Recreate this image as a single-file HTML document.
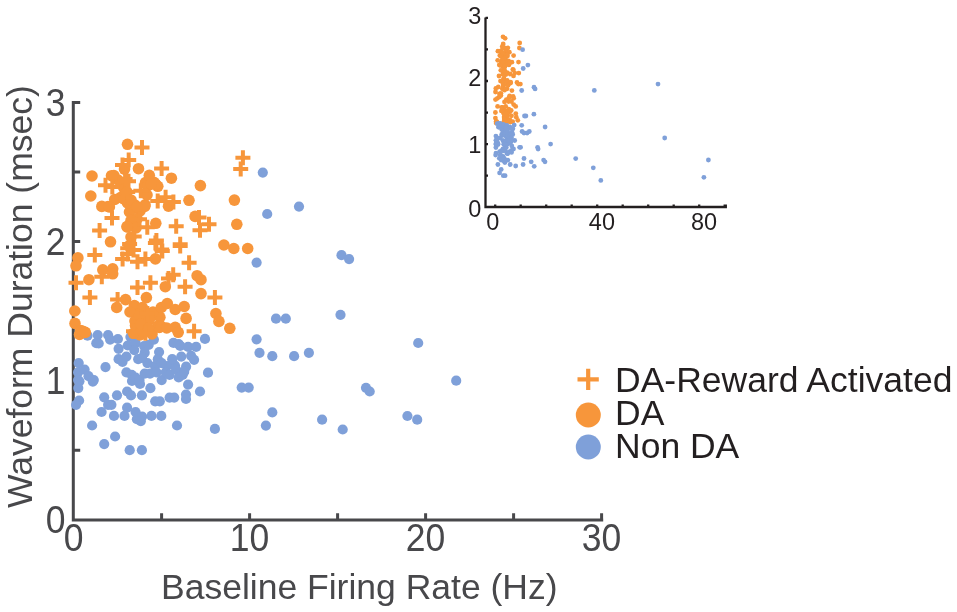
<!DOCTYPE html>
<html><head><meta charset="utf-8">
<style>
html,body{margin:0;padding:0;background:#fff;}
body{width:957px;height:612px;overflow:hidden;position:relative;font-family:"Liberation Sans",sans-serif;}
svg{position:absolute;left:0;top:0;will-change:transform;}
</style></head><body>
<svg width="957" height="612" viewBox="0 0 957 612" font-family="Liberation Sans, sans-serif">
<path d="M73.3 101V519.9H603.2 M73.3 450.3H80.2 M73.3 380.8H80.2 M73.3 311.2H80.2 M73.3 241.6H80.2 M73.3 172.1H80.2 M73.3 102.5H80.2 M161.6 519.9V513.3 M249.6 519.9V513.3 M337.6 519.9V513.3 M425.6 519.9V513.3 M513.6 519.9V513.3 M601.6 519.9V513.3" stroke="#48484b" stroke-width="3" fill="none"/>
<g fill="#48484b" font-size="35.5">
<text transform="translate(65.5 533.1) scale(1 1.08)" text-anchor="end">0</text>
<text transform="translate(65.5 394) scale(1 1.08)" text-anchor="end">1</text>
<text transform="translate(65.5 254.8) scale(1 1.08)" text-anchor="end">2</text>
<text transform="translate(65.5 115.7) scale(1 1.08)" text-anchor="end">3</text>
<text transform="translate(73.6 550.5) scale(1 1.08)" text-anchor="middle">0</text>
<text transform="translate(249.6 550.5) scale(1 1.08)" text-anchor="middle">10</text>
<text transform="translate(425.6 550.5) scale(1 1.08)" text-anchor="middle">20</text>
<text transform="translate(601.6 550.5) scale(1 1.08)" text-anchor="middle">30</text>
<text x="161" y="598.5">Baseline Firing Rate (Hz)</text>
<text transform="translate(32.4 508) rotate(-90)">Waveform Duration (msec)</text>
</g>
<g fill="#231f20" font-size="35.5"><text x="615" y="392">DA-Reward Activated</text><text x="615" y="425">DA</text><text x="615" y="457.5">Non DA</text></g>
<path d="M577.5 379.3H598.8M588.2 368.7V390" stroke="#f7963b" stroke-width="4.2"/>
<circle cx="588.3" cy="415" r="12.5" fill="#f7963b"/><circle cx="588.3" cy="447" r="12.5" fill="#7fa0d9"/>
<g fill="#7fa0d9"><circle cx="167" cy="366" r="5.1"/><circle cx="175" cy="365.5" r="5.1"/><circle cx="140" cy="384" r="5.1"/><circle cx="132" cy="381" r="5.1"/><circle cx="155" cy="366" r="5.1"/><circle cx="262.8" cy="172.6" r="5.1"/><circle cx="299" cy="206.6" r="5.1"/><circle cx="267.2" cy="214" r="5.1"/><circle cx="256.6" cy="262.6" r="5.1"/><circle cx="341.5" cy="255.2" r="5.1"/><circle cx="349.1" cy="259.1" r="5.1"/><circle cx="276" cy="318.7" r="5.1"/><circle cx="285.8" cy="318.7" r="5.1"/><circle cx="340.5" cy="314.8" r="5.1"/><circle cx="256.6" cy="339.3" r="5.1"/><circle cx="259.5" cy="352.8" r="5.1"/><circle cx="272.3" cy="356.2" r="5.1"/><circle cx="294.1" cy="356.2" r="5.1"/><circle cx="308.9" cy="352.8" r="5.1"/><circle cx="418.2" cy="343" r="5.1"/><circle cx="366" cy="387.8" r="5.1"/><circle cx="369.7" cy="391.5" r="5.1"/><circle cx="456.2" cy="380.7" r="5.1"/><circle cx="272.3" cy="412.4" r="5.1"/><circle cx="265.9" cy="425.6" r="5.1"/><circle cx="322.1" cy="419.7" r="5.1"/><circle cx="342.7" cy="429.5" r="5.1"/><circle cx="407.4" cy="416" r="5.1"/><circle cx="417.2" cy="419.7" r="5.1"/><circle cx="78.3" cy="388.1" r="5.1"/><circle cx="79.1" cy="400.5" r="5.1"/><circle cx="76.1" cy="404.8" r="5.1"/><circle cx="104.2" cy="397.3" r="5.1"/><circle cx="108.1" cy="404.8" r="5.1"/><circle cx="111.4" cy="404.8" r="5.1"/><circle cx="101.6" cy="412" r="5.1"/><circle cx="114" cy="415.9" r="5.1"/><circle cx="117" cy="395.3" r="5.1"/><circle cx="127.1" cy="391.5" r="5.1"/><circle cx="131" cy="395.4" r="5.1"/><circle cx="127.1" cy="407.7" r="5.1"/><circle cx="124.5" cy="415.9" r="5.1"/><circle cx="135.6" cy="412" r="5.1"/><circle cx="136.9" cy="419.2" r="5.1"/><circle cx="142.1" cy="416.6" r="5.1"/><circle cx="140.8" cy="421.2" r="5.1"/><circle cx="141.9" cy="395.3" r="5.1"/><circle cx="150.4" cy="388.2" r="5.1"/><circle cx="151.5" cy="415.9" r="5.1"/><circle cx="161.3" cy="415.9" r="5.1"/><circle cx="155.2" cy="401.3" r="5.1"/><circle cx="159.8" cy="401.3" r="5.1"/><circle cx="169.6" cy="397.6" r="5.1"/><circle cx="174.2" cy="397.6" r="5.1"/><circle cx="186" cy="394.5" r="5.1"/><circle cx="186" cy="399" r="5.1"/><circle cx="92.1" cy="425.5" r="5.1"/><circle cx="177" cy="425.5" r="5.1"/><circle cx="115.1" cy="436.5" r="5.1"/><circle cx="104.2" cy="444.1" r="5.1"/><circle cx="129.7" cy="450.2" r="5.1"/><circle cx="141.9" cy="450.2" r="5.1"/><circle cx="79.4" cy="381.3" r="5.1"/><circle cx="92.8" cy="381.6" r="5.1"/><circle cx="200" cy="391.5" r="5.1"/><circle cx="214.9" cy="428.9" r="5.1"/><circle cx="208" cy="372.7" r="5.1"/><circle cx="241.7" cy="387.6" r="5.1"/><circle cx="248.7" cy="387.6" r="5.1"/><circle cx="87.5" cy="335.7" r="5.1"/><circle cx="97.7" cy="335" r="5.1"/><circle cx="96.3" cy="343.2" r="5.1"/><circle cx="98.7" cy="343.5" r="5.1"/><circle cx="108.1" cy="335" r="5.1"/><circle cx="110.1" cy="339.6" r="5.1"/><circle cx="117.9" cy="339" r="5.1"/><circle cx="118.6" cy="348.8" r="5.1"/><circle cx="130.4" cy="337" r="5.1"/><circle cx="127.7" cy="345.5" r="5.1"/><circle cx="135.6" cy="342.9" r="5.1"/><circle cx="134.3" cy="350.1" r="5.1"/><circle cx="144.1" cy="346.1" r="5.1"/><circle cx="148.7" cy="344.8" r="5.1"/><circle cx="153.9" cy="339.6" r="5.1"/><circle cx="144.7" cy="352.7" r="5.1"/><circle cx="159.1" cy="352" r="5.1"/><circle cx="118.6" cy="359.2" r="5.1"/><circle cx="122.5" cy="361.8" r="5.1"/><circle cx="126.4" cy="356.6" r="5.1"/><circle cx="138.2" cy="359.2" r="5.1"/><circle cx="147.4" cy="363.1" r="5.1"/><circle cx="142.1" cy="357.9" r="5.1"/><circle cx="157.8" cy="359.2" r="5.1"/><circle cx="161.7" cy="363.1" r="5.1"/><circle cx="172.2" cy="359.2" r="5.1"/><circle cx="181.3" cy="356.6" r="5.1"/><circle cx="173.5" cy="342.9" r="5.1"/><circle cx="178.7" cy="344.2" r="5.1"/><circle cx="126.4" cy="372.3" r="5.1"/><circle cx="131.7" cy="374.9" r="5.1"/><circle cx="135.6" cy="377.5" r="5.1"/><circle cx="139.5" cy="380.1" r="5.1"/><circle cx="144.7" cy="373.6" r="5.1"/><circle cx="150" cy="373.6" r="5.1"/><circle cx="156.5" cy="372.3" r="5.1"/><circle cx="161.7" cy="380.1" r="5.1"/><circle cx="165.7" cy="372.3" r="5.1"/><circle cx="169.6" cy="374.9" r="5.1"/><circle cx="176.1" cy="369.7" r="5.1"/><circle cx="178.7" cy="377.5" r="5.1"/><circle cx="182.6" cy="374.9" r="5.1"/><circle cx="105.5" cy="367.1" r="5.1"/><circle cx="78.7" cy="363.1" r="5.1"/><circle cx="78.1" cy="372.3" r="5.1"/><circle cx="84.6" cy="369.7" r="5.1"/><circle cx="88.5" cy="376.2" r="5.1"/><circle cx="93.8" cy="380.1" r="5.1"/><circle cx="78.1" cy="380.1" r="5.1"/><circle cx="180.2" cy="345.9" r="5.1"/><circle cx="188.1" cy="346.9" r="5.1"/><circle cx="196.1" cy="346.9" r="5.1"/><circle cx="205" cy="338.9" r="5.1"/><circle cx="191.1" cy="355.8" r="5.1"/><circle cx="194.1" cy="359.8" r="5.1"/><circle cx="186.1" cy="366.7" r="5.1"/><circle cx="184.2" cy="371.7" r="5.1"/><circle cx="188.1" cy="384.6" r="5.1"/></g>
<g fill="#f7963b"><circle cx="79.5" cy="334.5" r="5.8"/><circle cx="145.5" cy="182.5" r="5.8"/><circle cx="147.5" cy="186" r="5.8"/><circle cx="114.7" cy="199.5" r="5.8"/><circle cx="120.5" cy="197.5" r="5.8"/><circle cx="129.5" cy="212" r="5.8"/><circle cx="135" cy="205" r="5.8"/><circle cx="140" cy="211" r="5.8"/><circle cx="137" cy="219" r="5.8"/><circle cx="131" cy="220.5" r="5.8"/><circle cx="108" cy="206.5" r="5.8"/><circle cx="134.4" cy="305.5" r="5.8"/><circle cx="142.3" cy="307.5" r="5.8"/><circle cx="137.4" cy="314.3" r="5.8"/><circle cx="130" cy="312" r="5.8"/><circle cx="146.2" cy="321.2" r="5.8"/><circle cx="159.9" cy="317.3" r="5.8"/><circle cx="157.9" cy="326.1" r="5.8"/><circle cx="152" cy="334" r="5.8"/><circle cx="140" cy="335" r="5.8"/><circle cx="135" cy="321" r="5.8"/><circle cx="153" cy="312" r="5.8"/><circle cx="124.5" cy="169.1" r="5.8"/><circle cx="123.5" cy="187.3" r="5.8"/><circle cx="123.5" cy="196.1" r="5.8"/><circle cx="127.5" cy="203" r="5.8"/><circle cx="153.9" cy="182.4" r="5.8"/><circle cx="157.8" cy="186.3" r="5.8"/><circle cx="145.1" cy="204.9" r="5.8"/><circle cx="127" cy="226.6" r="5.8"/><circle cx="136" cy="228" r="5.8"/><circle cx="131" cy="237" r="5.8"/><circle cx="129" cy="246" r="5.8"/><circle cx="118" cy="180" r="5.8"/><circle cx="127" cy="192" r="5.8"/><circle cx="147" cy="195" r="5.8"/><circle cx="127.5" cy="144.3" r="5.8"/><circle cx="92" cy="176" r="5.8"/><circle cx="111.5" cy="175.7" r="5.8"/><circle cx="138.5" cy="168.7" r="5.8"/><circle cx="149.3" cy="175.3" r="5.8"/><circle cx="171.4" cy="178.2" r="5.8"/><circle cx="155.6" cy="184.2" r="5.8"/><circle cx="90.8" cy="196" r="5.8"/><circle cx="101.8" cy="206.4" r="5.8"/><circle cx="109.4" cy="207" r="5.8"/><circle cx="144.7" cy="206.4" r="5.8"/><circle cx="168.5" cy="206.2" r="5.8"/><circle cx="189" cy="200.3" r="5.8"/><circle cx="200.4" cy="185.6" r="5.8"/><circle cx="234.4" cy="200.1" r="5.8"/><circle cx="236.8" cy="224.3" r="5.8"/><circle cx="195.1" cy="216.4" r="5.8"/><circle cx="127.3" cy="226.9" r="5.8"/><circle cx="110.5" cy="241.8" r="5.8"/><circle cx="155.8" cy="223.3" r="5.8"/><circle cx="223.9" cy="245" r="5.8"/><circle cx="233.8" cy="248.5" r="5.8"/><circle cx="247.7" cy="248.5" r="5.8"/><circle cx="124.4" cy="199.1" r="5.8"/><circle cx="113.9" cy="175.5" r="5.8"/><circle cx="151.2" cy="184.2" r="5.8"/><circle cx="131" cy="200" r="5.8"/><circle cx="137" cy="207" r="5.8"/><circle cx="77.9" cy="257.9" r="5.8"/><circle cx="76" cy="265.8" r="5.8"/><circle cx="102.8" cy="269.8" r="5.8"/><circle cx="112.7" cy="268.8" r="5.8"/><circle cx="112.7" cy="273.8" r="5.8"/><circle cx="88.9" cy="279.7" r="5.8"/><circle cx="155.4" cy="258.9" r="5.8"/><circle cx="165.3" cy="286.7" r="5.8"/><circle cx="197.1" cy="275.7" r="5.8"/><circle cx="201" cy="279.7" r="5.8"/><circle cx="201" cy="293.6" r="5.8"/><circle cx="74.8" cy="311" r="5.8"/><circle cx="75" cy="323.4" r="5.8"/><circle cx="82.9" cy="331.3" r="5.8"/><circle cx="116.7" cy="307.5" r="5.8"/><circle cx="125.6" cy="299.6" r="5.8"/><circle cx="146.4" cy="297.6" r="5.8"/><circle cx="161.3" cy="307.5" r="5.8"/><circle cx="167.3" cy="303.5" r="5.8"/><circle cx="175.2" cy="309.5" r="5.8"/><circle cx="184.2" cy="306.5" r="5.8"/><circle cx="186.1" cy="318.4" r="5.8"/><circle cx="215.9" cy="313.5" r="5.8"/><circle cx="218.9" cy="321.4" r="5.8"/><circle cx="229.8" cy="328.3" r="5.8"/><circle cx="175.2" cy="327.4" r="5.8"/><circle cx="178.2" cy="332.3" r="5.8"/><circle cx="159.3" cy="327.4" r="5.8"/><circle cx="135.5" cy="325.4" r="5.8"/><circle cx="133.5" cy="333.3" r="5.8"/><circle cx="145.4" cy="329.3" r="5.8"/><circle cx="149.4" cy="319.4" r="5.8"/><circle cx="139.5" cy="315.4" r="5.8"/><circle cx="80.7" cy="330.5" r="5.8"/><circle cx="85.3" cy="332.4" r="5.8"/><circle cx="140.6" cy="324" r="5.8"/><circle cx="148.4" cy="328" r="5.8"/><circle cx="161.5" cy="326.5" r="5.8"/><circle cx="166.7" cy="328" r="5.8"/></g>
<path d="M161 278.5h15M168.5 271v15M134.5 147.6h15M142 140.1v15M121.2 160.1h15M128.7 152.6v15M115 165.1h15M122.5 157.6v15M154.1 168.5h15M161.6 161v15M98 185.2h15M105.5 177.7v15M104.8 187h15M112.3 179.5v15M121 181.2h15M128.5 173.7v15M133.3 190.7h15M140.8 183.2v15M150.2 201.1h15M157.7 193.6v15M158.1 197.2h15M165.6 189.7v15M165.9 202h15M173.4 194.5v15M104.5 218.1h15M112 210.6v15M132 219.3h15M139.5 211.8v15M92.1 230.6h15M99.6 223.1v15M168.7 226.3h15M176.2 218.8v15M192.5 230.3h15M200 222.8v15M201.5 224.3h15M209 216.8v15M172.7 244.2h15M180.2 236.7v15M148.9 240.4h15M156.4 232.9v15M120.2 248.2h15M127.7 240.7v15M126.7 236.4h15M134.2 228.9v15M235.4 157.7h15M242.9 150.2v15M233.2 169h15M240.7 161.5v15M139.8 227.3h15M147.3 219.8v15M117.6 178.9h15M125.1 171.4v15M120.2 192h15M127.7 184.5v15M154.2 249.5h15M161.7 242v15M191.5 217.4h15M199 209.9v15M122.1 244h15M129.6 236.5v15M126 249.9h15M133.5 242.4v15M120.1 253.9h15M127.6 246.4v15M115.1 258.9h15M122.6 251.4v15M130 261.8h15M137.5 254.3v15M137.9 258.9h15M145.4 251.4v15M147.9 243h15M155.4 235.5v15M154.8 250.9h15M162.3 243.4v15M172.7 246h15M180.2 238.5v15M87.3 254.9h15M94.8 247.4v15M181.6 262.8h15M189.1 255.3v15M165.7 274.7h15M173.2 267.2v15M94.3 276.7h15M101.8 269.2v15M68.5 282.7h15M76 275.2v15M142.9 282.7h15M150.4 275.2v15M130 287.6h15M137.5 280.1v15M177.6 286.7h15M185.1 279.2v15M82.4 297.6h15M89.9 290.1v15M110.1 299.6h15M117.6 292.1v15M207.4 297.6h15M214.9 290.1v15M139.9 313.5h15M147.4 306v15M126 331.3h15M133.5 323.8v15M137.9 333.3h15M145.4 325.8v15M186.6 331.3h15M194.1 323.8v15" stroke="#f7963b" stroke-width="4" fill="none"/>
<path d="M485.5 17.4V207H725.8V204.5 M485.5 175.7H488 M485.5 144.2H488 M485.5 112.6H488 M485.5 81H488 M485.5 49.4H488 M485.5 17.9H488 M495.2 207V204.5 M520.7 207V204.5 M546.2 207V204.5 M571.7 207V204.5 M597.2 207V204.5 M622.7 207V204.5 M648.2 207V204.5 M673.7 207V204.5 M699.2 207V204.5 M724.7 207V204.5" stroke="#231f20" stroke-width="2.3" fill="none"/>
<g fill="#231f20" font-size="23.5">
<text transform="translate(481.3 216.8) scale(1 1.055)" text-anchor="end">0</text>
<text transform="translate(481.3 153.4) scale(1 1.055)" text-anchor="end">1</text>
<text transform="translate(481.3 86.4) scale(1 1.055)" text-anchor="end">2</text>
<text transform="translate(481.3 24.1) scale(1 1.055)" text-anchor="end">3</text>
<text transform="translate(492.7 229.6) scale(1 1.055)" text-anchor="middle">0</text>
<text transform="translate(601.9 229.6) scale(1 1.055)" text-anchor="middle">40</text>
<text transform="translate(704.1 229.6) scale(1 1.055)" text-anchor="middle">80</text>
</g>
<g fill="#f7963b"><circle cx="496.1" cy="123.1" r="2.4"/><circle cx="505.6" cy="54.2" r="2.4"/><circle cx="505.9" cy="55.7" r="2.4"/><circle cx="501.2" cy="61.9" r="2.4"/><circle cx="502" cy="61" r="2.4"/><circle cx="503.3" cy="67.5" r="2.4"/><circle cx="504.1" cy="64.4" r="2.4"/><circle cx="504.8" cy="67.1" r="2.4"/><circle cx="504.4" cy="70.7" r="2.4"/><circle cx="503.5" cy="71.4" r="2.4"/><circle cx="500.2" cy="65.1" r="2.4"/><circle cx="504" cy="110" r="2.4"/><circle cx="505.2" cy="110.9" r="2.4"/><circle cx="504.4" cy="114" r="2.4"/><circle cx="503.4" cy="112.9" r="2.4"/><circle cx="505.7" cy="117.1" r="2.4"/><circle cx="507.7" cy="115.3" r="2.4"/><circle cx="507.4" cy="119.3" r="2.4"/><circle cx="506.6" cy="122.9" r="2.4"/><circle cx="504.8" cy="123.4" r="2.4"/><circle cx="504.1" cy="117" r="2.4"/><circle cx="506.7" cy="112.9" r="2.4"/><circle cx="502.6" cy="48.1" r="2.4"/><circle cx="502.4" cy="56.3" r="2.4"/><circle cx="502.4" cy="60.3" r="2.4"/><circle cx="503" cy="63.5" r="2.4"/><circle cx="506.8" cy="54.1" r="2.4"/><circle cx="507.4" cy="55.9" r="2.4"/><circle cx="505.6" cy="64.3" r="2.4"/><circle cx="502.9" cy="74.2" r="2.4"/><circle cx="504.2" cy="74.8" r="2.4"/><circle cx="503.5" cy="78.9" r="2.4"/><circle cx="503.2" cy="83" r="2.4"/><circle cx="501.6" cy="53" r="2.4"/><circle cx="502.9" cy="58.5" r="2.4"/><circle cx="505.8" cy="59.8" r="2.4"/><circle cx="503" cy="36.8" r="2.4"/><circle cx="497.9" cy="51.2" r="2.4"/><circle cx="500.7" cy="51.1" r="2.4"/><circle cx="504.6" cy="47.9" r="2.4"/><circle cx="506.2" cy="50.9" r="2.4"/><circle cx="509.4" cy="52.2" r="2.4"/><circle cx="507.1" cy="54.9" r="2.4"/><circle cx="497.7" cy="60.3" r="2.4"/><circle cx="499.3" cy="65" r="2.4"/><circle cx="500.4" cy="65.3" r="2.4"/><circle cx="505.5" cy="65" r="2.4"/><circle cx="508.9" cy="64.9" r="2.4"/><circle cx="511.9" cy="62.2" r="2.4"/><circle cx="513.6" cy="55.6" r="2.4"/><circle cx="518.5" cy="62.1" r="2.4"/><circle cx="518.8" cy="73.1" r="2.4"/><circle cx="512.8" cy="69.5" r="2.4"/><circle cx="503" cy="74.3" r="2.4"/><circle cx="500.5" cy="81.1" r="2.4"/><circle cx="507.1" cy="72.7" r="2.4"/><circle cx="517" cy="82.5" r="2.4"/><circle cx="518.4" cy="84.1" r="2.4"/><circle cx="520.4" cy="84.1" r="2.4"/><circle cx="502.6" cy="61.7" r="2.4"/><circle cx="501" cy="51" r="2.4"/><circle cx="506.4" cy="54.9" r="2.4"/><circle cx="503.5" cy="62.1" r="2.4"/><circle cx="504.4" cy="65.3" r="2.4"/><circle cx="495.8" cy="88.4" r="2.4"/><circle cx="495.5" cy="92" r="2.4"/><circle cx="499.4" cy="93.8" r="2.4"/><circle cx="500.9" cy="93.3" r="2.4"/><circle cx="500.9" cy="95.6" r="2.4"/><circle cx="497.4" cy="98.3" r="2.4"/><circle cx="507.1" cy="88.8" r="2.4"/><circle cx="508.5" cy="101.5" r="2.4"/><circle cx="513.1" cy="96.5" r="2.4"/><circle cx="513.7" cy="98.3" r="2.4"/><circle cx="513.7" cy="104.6" r="2.4"/><circle cx="495.4" cy="112.5" r="2.4"/><circle cx="495.4" cy="118.1" r="2.4"/><circle cx="496.5" cy="121.7" r="2.4"/><circle cx="501.4" cy="110.9" r="2.4"/><circle cx="502.7" cy="107.3" r="2.4"/><circle cx="505.7" cy="106.4" r="2.4"/><circle cx="507.9" cy="110.9" r="2.4"/><circle cx="508.8" cy="109.1" r="2.4"/><circle cx="509.9" cy="111.8" r="2.4"/><circle cx="511.2" cy="110.4" r="2.4"/><circle cx="511.5" cy="115.8" r="2.4"/><circle cx="515.8" cy="113.6" r="2.4"/><circle cx="516.3" cy="117.2" r="2.4"/><circle cx="517.8" cy="120.3" r="2.4"/><circle cx="509.9" cy="119.9" r="2.4"/><circle cx="510.4" cy="122.1" r="2.4"/><circle cx="507.6" cy="119.9" r="2.4"/><circle cx="504.2" cy="119" r="2.4"/><circle cx="503.9" cy="122.6" r="2.4"/><circle cx="505.6" cy="120.8" r="2.4"/><circle cx="506.2" cy="116.3" r="2.4"/><circle cx="504.7" cy="114.5" r="2.4"/><circle cx="496.2" cy="121.3" r="2.4"/><circle cx="496.9" cy="122.2" r="2.4"/><circle cx="504.9" cy="118.4" r="2.4"/><circle cx="506" cy="120.2" r="2.4"/><circle cx="507.9" cy="119.5" r="2.4"/><circle cx="508.7" cy="120.2" r="2.4"/><circle cx="508.9" cy="97.7" r="2.4"/><circle cx="505.1" cy="38.3" r="2.4"/><circle cx="503.2" cy="44" r="2.4"/><circle cx="502.3" cy="46.3" r="2.4"/><circle cx="507.9" cy="47.8" r="2.4"/><circle cx="499.8" cy="55.4" r="2.4"/><circle cx="500.8" cy="56.2" r="2.4"/><circle cx="503.2" cy="53.6" r="2.4"/><circle cx="504.9" cy="57.9" r="2.4"/><circle cx="507.4" cy="62.6" r="2.4"/><circle cx="508.5" cy="60.8" r="2.4"/><circle cx="509.7" cy="63" r="2.4"/><circle cx="500.8" cy="70.3" r="2.4"/><circle cx="504.7" cy="70.9" r="2.4"/><circle cx="499" cy="76" r="2.4"/><circle cx="510.1" cy="74" r="2.4"/><circle cx="513.5" cy="75.9" r="2.4"/><circle cx="514.8" cy="73.1" r="2.4"/><circle cx="510.6" cy="82.2" r="2.4"/><circle cx="507.2" cy="80.4" r="2.4"/><circle cx="503" cy="84" r="2.4"/><circle cx="504" cy="78.6" r="2.4"/><circle cx="519.7" cy="42.9" r="2.4"/><circle cx="519.4" cy="48" r="2.4"/><circle cx="505.9" cy="74.5" r="2.4"/><circle cx="502.7" cy="52.5" r="2.4"/><circle cx="503" cy="58.5" r="2.4"/><circle cx="508" cy="84.6" r="2.4"/><circle cx="513.4" cy="70" r="2.4"/><circle cx="503.3" cy="82.1" r="2.4"/><circle cx="503.9" cy="84.7" r="2.4"/><circle cx="503" cy="86.6" r="2.4"/><circle cx="502.3" cy="88.8" r="2.4"/><circle cx="504.5" cy="90.2" r="2.4"/><circle cx="505.6" cy="88.8" r="2.4"/><circle cx="507.1" cy="81.6" r="2.4"/><circle cx="508.1" cy="85.2" r="2.4"/><circle cx="510.6" cy="83" r="2.4"/><circle cx="498.3" cy="87" r="2.4"/><circle cx="511.9" cy="90.6" r="2.4"/><circle cx="509.6" cy="96" r="2.4"/><circle cx="499.3" cy="96.9" r="2.4"/><circle cx="495.5" cy="99.6" r="2.4"/><circle cx="506.3" cy="99.6" r="2.4"/><circle cx="504.5" cy="101.9" r="2.4"/><circle cx="511.4" cy="101.5" r="2.4"/><circle cx="497.6" cy="106.4" r="2.4"/><circle cx="501.6" cy="107.3" r="2.4"/><circle cx="515.7" cy="106.4" r="2.4"/><circle cx="505.9" cy="113.6" r="2.4"/><circle cx="503.9" cy="121.7" r="2.4"/><circle cx="505.6" cy="122.6" r="2.4"/><circle cx="512.7" cy="121.7" r="2.4"/></g>
<g fill="#7fa0d9"><circle cx="508.7" cy="137.4" r="2.4"/><circle cx="509.9" cy="137.2" r="2.4"/><circle cx="504.8" cy="145.6" r="2.4"/><circle cx="503.7" cy="144.3" r="2.4"/><circle cx="507" cy="137.4" r="2.4"/><circle cx="522.6" cy="49.7" r="2.4"/><circle cx="527.9" cy="65.1" r="2.4"/><circle cx="523.2" cy="68.5" r="2.4"/><circle cx="521.7" cy="90.5" r="2.4"/><circle cx="534" cy="87.2" r="2.4"/><circle cx="535.1" cy="88.9" r="2.4"/><circle cx="524.5" cy="116" r="2.4"/><circle cx="525.9" cy="116" r="2.4"/><circle cx="533.9" cy="114.2" r="2.4"/><circle cx="521.7" cy="125.3" r="2.4"/><circle cx="522.1" cy="131.5" r="2.4"/><circle cx="524" cy="133" r="2.4"/><circle cx="527.1" cy="133" r="2.4"/><circle cx="529.3" cy="131.5" r="2.4"/><circle cx="545.1" cy="127" r="2.4"/><circle cx="537.6" cy="147.3" r="2.4"/><circle cx="538.1" cy="149" r="2.4"/><circle cx="550.6" cy="144.1" r="2.4"/><circle cx="524" cy="158.5" r="2.4"/><circle cx="523.1" cy="164.5" r="2.4"/><circle cx="531.2" cy="161.8" r="2.4"/><circle cx="534.2" cy="166.3" r="2.4"/><circle cx="543.6" cy="160.1" r="2.4"/><circle cx="545" cy="161.8" r="2.4"/><circle cx="495.9" cy="147.5" r="2.4"/><circle cx="496" cy="153.1" r="2.4"/><circle cx="495.6" cy="155.1" r="2.4"/><circle cx="499.6" cy="151.7" r="2.4"/><circle cx="500.2" cy="155.1" r="2.4"/><circle cx="500.7" cy="155.1" r="2.4"/><circle cx="499.3" cy="158.3" r="2.4"/><circle cx="501.1" cy="160.1" r="2.4"/><circle cx="501.5" cy="150.7" r="2.4"/><circle cx="503" cy="149" r="2.4"/><circle cx="503.5" cy="150.8" r="2.4"/><circle cx="503" cy="156.4" r="2.4"/><circle cx="502.6" cy="160.1" r="2.4"/><circle cx="504.2" cy="158.3" r="2.4"/><circle cx="504.4" cy="161.6" r="2.4"/><circle cx="505.1" cy="160.4" r="2.4"/><circle cx="504.9" cy="162.5" r="2.4"/><circle cx="505.1" cy="150.7" r="2.4"/><circle cx="506.3" cy="147.5" r="2.4"/><circle cx="506.5" cy="160.1" r="2.4"/><circle cx="507.9" cy="160.1" r="2.4"/><circle cx="507" cy="153.5" r="2.4"/><circle cx="507.7" cy="153.5" r="2.4"/><circle cx="509.1" cy="151.8" r="2.4"/><circle cx="509.8" cy="151.8" r="2.4"/><circle cx="511.5" cy="150.4" r="2.4"/><circle cx="511.5" cy="152.4" r="2.4"/><circle cx="497.9" cy="164.5" r="2.4"/><circle cx="510.2" cy="164.5" r="2.4"/><circle cx="501.2" cy="169.4" r="2.4"/><circle cx="499.6" cy="172.9" r="2.4"/><circle cx="503.3" cy="175.7" r="2.4"/><circle cx="505.1" cy="175.7" r="2.4"/><circle cx="496" cy="144.4" r="2.4"/><circle cx="498" cy="144.5" r="2.4"/><circle cx="513.5" cy="149" r="2.4"/><circle cx="515.7" cy="166" r="2.4"/><circle cx="514.7" cy="140.5" r="2.4"/><circle cx="519.6" cy="147.3" r="2.4"/><circle cx="520.6" cy="147.3" r="2.4"/><circle cx="497.2" cy="123.7" r="2.4"/><circle cx="498.7" cy="123.4" r="2.4"/><circle cx="498.5" cy="127.1" r="2.4"/><circle cx="498.8" cy="127.2" r="2.4"/><circle cx="500.2" cy="123.4" r="2.4"/><circle cx="500.5" cy="125.5" r="2.4"/><circle cx="501.6" cy="125.2" r="2.4"/><circle cx="501.7" cy="129.6" r="2.4"/><circle cx="503.4" cy="124.3" r="2.4"/><circle cx="503" cy="128.1" r="2.4"/><circle cx="504.2" cy="127" r="2.4"/><circle cx="504" cy="130.2" r="2.4"/><circle cx="505.4" cy="128.4" r="2.4"/><circle cx="506.1" cy="127.8" r="2.4"/><circle cx="506.8" cy="125.5" r="2.4"/><circle cx="505.5" cy="131.4" r="2.4"/><circle cx="507.6" cy="131.1" r="2.4"/><circle cx="501.7" cy="134.4" r="2.4"/><circle cx="502.3" cy="135.5" r="2.4"/><circle cx="502.8" cy="133.2" r="2.4"/><circle cx="504.6" cy="134.4" r="2.4"/><circle cx="505.9" cy="136.1" r="2.4"/><circle cx="505.1" cy="133.8" r="2.4"/><circle cx="507.4" cy="134.4" r="2.4"/><circle cx="508" cy="136.1" r="2.4"/><circle cx="509.5" cy="134.4" r="2.4"/><circle cx="510.8" cy="133.2" r="2.4"/><circle cx="509.7" cy="127" r="2.4"/><circle cx="510.4" cy="127.6" r="2.4"/><circle cx="502.8" cy="140.3" r="2.4"/><circle cx="503.6" cy="141.5" r="2.4"/><circle cx="504.2" cy="142.7" r="2.4"/><circle cx="504.7" cy="143.8" r="2.4"/><circle cx="505.5" cy="140.9" r="2.4"/><circle cx="506.3" cy="140.9" r="2.4"/><circle cx="507.2" cy="140.3" r="2.4"/><circle cx="508" cy="143.8" r="2.4"/><circle cx="508.5" cy="140.3" r="2.4"/><circle cx="509.1" cy="141.5" r="2.4"/><circle cx="510.1" cy="139.1" r="2.4"/><circle cx="510.4" cy="142.7" r="2.4"/><circle cx="511" cy="141.5" r="2.4"/><circle cx="499.8" cy="137.9" r="2.4"/><circle cx="495.9" cy="136.1" r="2.4"/><circle cx="495.9" cy="140.3" r="2.4"/><circle cx="496.8" cy="139.1" r="2.4"/><circle cx="497.4" cy="142.1" r="2.4"/><circle cx="498.1" cy="143.8" r="2.4"/><circle cx="495.9" cy="143.8" r="2.4"/><circle cx="510.6" cy="128.3" r="2.4"/><circle cx="511.8" cy="128.8" r="2.4"/><circle cx="512.9" cy="128.8" r="2.4"/><circle cx="514.2" cy="125.1" r="2.4"/><circle cx="512.2" cy="132.8" r="2.4"/><circle cx="512.7" cy="134.6" r="2.4"/><circle cx="511.5" cy="137.8" r="2.4"/><circle cx="511.2" cy="140" r="2.4"/><circle cx="511.8" cy="145.9" r="2.4"/><circle cx="594.3" cy="90.4" r="2.4"/><circle cx="658" cy="84.1" r="2.4"/><circle cx="664.7" cy="138" r="2.4"/><circle cx="575.7" cy="158.6" r="2.4"/><circle cx="593.3" cy="167.8" r="2.4"/><circle cx="600.8" cy="180.4" r="2.4"/><circle cx="708.4" cy="160" r="2.4"/><circle cx="703.9" cy="177.3" r="2.4"/></g>
</svg>
</body></html>
